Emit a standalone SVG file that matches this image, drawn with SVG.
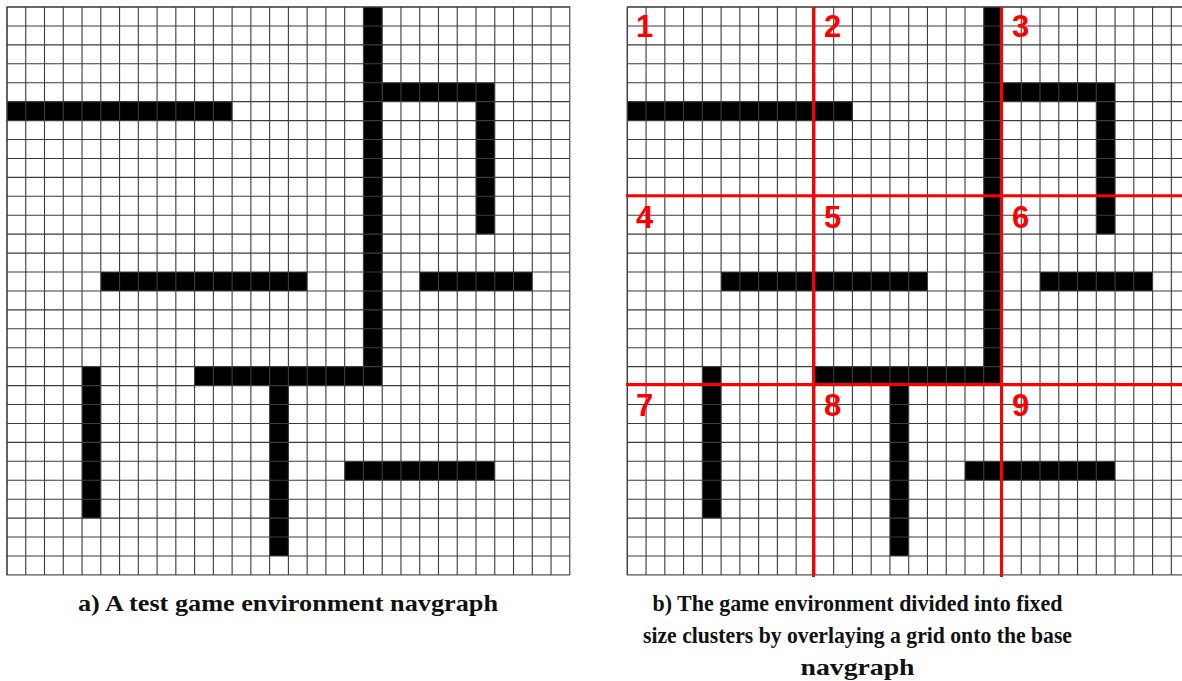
<svg xmlns="http://www.w3.org/2000/svg" xmlns:xlink="http://www.w3.org/1999/xlink" width="1182" height="681" viewBox="0 0 1182 681">
<style>
.grid{fill:none;stroke:#3c3c3c;stroke-width:1.1}
.wall{fill:#000}
.red{stroke:#ff0000;stroke-width:3;fill:none}
.num{font-family:"Liberation Sans",Arial,sans-serif;font-weight:bold;font-size:31px;fill:#ff0000}
.cap{font-family:"Liberation Serif","Times New Roman",serif;font-weight:bold;font-size:24px;fill:#111;text-anchor:middle}
</style>
<defs>
<g id="walls">
<rect class="wall" x="0" y="94.65" width="225.12" height="18.93"/>
<rect class="wall" x="356.44" y="0" width="18.76" height="378.6"/>
<rect class="wall" x="375.2" y="75.72" width="112.56" height="18.93"/>
<rect class="wall" x="469" y="94.65" width="18.76" height="132.51"/>
<rect class="wall" x="93.8" y="265.02" width="206.36" height="18.93"/>
<rect class="wall" x="412.72" y="265.02" width="112.56" height="18.93"/>
<rect class="wall" x="187.6" y="359.67" width="168.84" height="18.93"/>
<rect class="wall" x="262.64" y="378.6" width="18.76" height="170.37"/>
<rect class="wall" x="75.04" y="359.67" width="18.76" height="151.44"/>
<rect class="wall" x="337.68" y="454.32" width="150.08" height="18.93"/>
</g>
<g id="gridlines" class="grid">
<path d="M0,0v567.9m18.76,-567.9v567.9m18.76,-567.9v567.9m18.76,-567.9v567.9m18.76,-567.9v567.9m18.76,-567.9v567.9m18.76,-567.9v567.9m18.76,-567.9v567.9m18.76,-567.9v567.9m18.76,-567.9v567.9m18.76,-567.9v567.9m18.76,-567.9v567.9m18.76,-567.9v567.9m18.76,-567.9v567.9m18.76,-567.9v567.9m18.76,-567.9v567.9m18.76,-567.9v567.9m18.76,-567.9v567.9m18.76,-567.9v567.9m18.76,-567.9v567.9m18.76,-567.9v567.9m18.76,-567.9v567.9m18.76,-567.9v567.9m18.76,-567.9v567.9m18.76,-567.9v567.9m18.76,-567.9v567.9m18.76,-567.9v567.9m18.76,-567.9v567.9m18.76,-567.9v567.9m18.76,-567.9v567.9"/>
<path d="M0,0h562.8m-562.8,18.93h562.8m-562.8,18.93h562.8m-562.8,18.93h562.8m-562.8,18.93h562.8m-562.8,18.93h562.8m-562.8,18.93h562.8m-562.8,18.93h562.8m-562.8,18.93h562.8m-562.8,18.93h562.8m-562.8,18.93h562.8m-562.8,18.93h562.8m-562.8,18.93h562.8m-562.8,18.93h562.8m-562.8,18.93h562.8m-562.8,18.93h562.8m-562.8,18.93h562.8m-562.8,18.93h562.8m-562.8,18.93h562.8m-562.8,18.93h562.8m-562.8,18.93h562.8m-562.8,18.93h562.8m-562.8,18.93h562.8m-562.8,18.93h562.8m-562.8,18.93h562.8m-562.8,18.93h562.8m-562.8,18.93h562.8m-562.8,18.93h562.8m-562.8,18.93h562.8m-562.8,18.93h562.8"/>
<rect x="0" y="0" width="562.8" height="567.9"/>
</g>
</defs>
<rect width="1182" height="681" fill="#fff"/>
<g id="panel-a" transform="translate(7,7)">
<use xlink:href="#walls" href="#walls"/>
<use xlink:href="#gridlines" href="#gridlines"/>
</g>
<g id="panel-b" transform="translate(627.3,7)">
<use xlink:href="#walls" href="#walls"/>
<use xlink:href="#gridlines" href="#gridlines"/>
</g>
<g id="cluster-lines">
<path class="red" d="M813.5,7V577M1001.5,7V577M626,195.7H1182M626,384.5H1182"/>
</g>
<g id="cluster-labels">
<text class="num" x="636" y="37">1</text>
<text class="num" x="824" y="37">2</text>
<text class="num" x="1012" y="37">3</text>
<text class="num" x="636" y="228">4</text>
<text class="num" x="824" y="228">5</text>
<text class="num" x="1012" y="228">6</text>
<text class="num" x="636" y="416">7</text>
<text class="num" x="824" y="416">8</text>
<text class="num" x="1012" y="416">9</text>
</g>
<g id="captions">
<text class="cap" x="288" y="611" textLength="420" lengthAdjust="spacingAndGlyphs">a) A test game environment navgraph</text>
<text class="cap" x="857.5" y="611" textLength="410" lengthAdjust="spacingAndGlyphs">b) The game environment divided into fixed</text>
<text class="cap" x="857.5" y="643" textLength="429" lengthAdjust="spacingAndGlyphs">size clusters by overlaying a grid onto the base</text>
<text class="cap" x="857.5" y="675" textLength="114" lengthAdjust="spacingAndGlyphs">navgraph</text>
</g>
</svg>
